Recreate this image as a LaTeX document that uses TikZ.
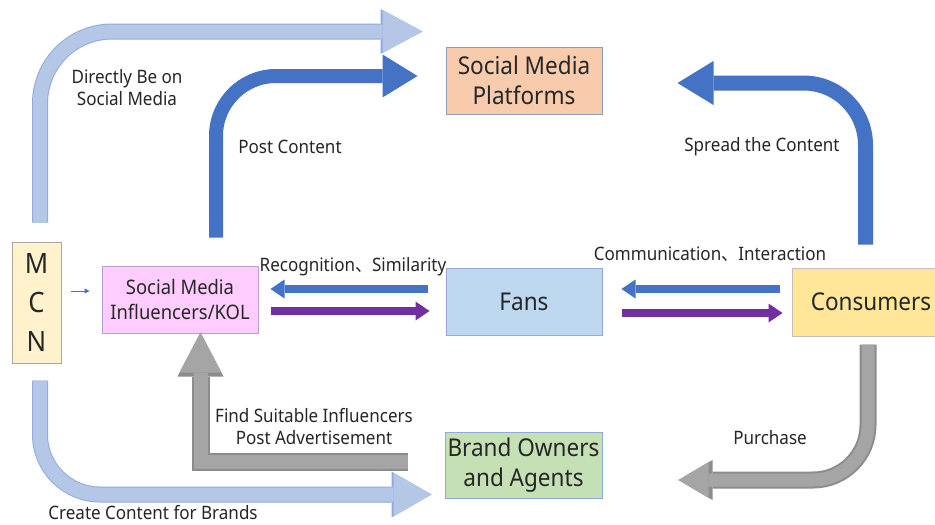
\documentclass[tikz,border=0pt]{standalone}
\usepackage{fontspec}
\setmainfont{Noto Sans}[FakeStretch=0.92]
\newfontfamily\cjk{Noto Sans CJK SC}[FakeStretch=0.92]
\usetikzlibrary{arrows.meta,calc}

\definecolor{txt}{HTML}{262626}
\definecolor{ltblue}{HTML}{B4C7E7}
\definecolor{ltedge}{HTML}{8FAADC}
\definecolor{dkblue}{HTML}{4472C4}
\definecolor{purp}{HTML}{7030A0}
\definecolor{grayfill}{HTML}{A5A5A5}
\definecolor{grayedge}{HTML}{8C8C8C}
\definecolor{mcnfill}{HTML}{FFF2CC}
\definecolor{mcnedge}{HTML}{A6A6A6}
\definecolor{kolfill}{HTML}{FFCCFF}
\definecolor{koledge}{HTML}{B9A0D4}
\definecolor{fanfill}{HTML}{BDD7EE}
\definecolor{fanedge}{HTML}{8FAADC}
\definecolor{consfill}{HTML}{FFE699}
\definecolor{consedge}{HTML}{BFBFBF}
\definecolor{smpfill}{HTML}{F8CBAD}
\definecolor{smpedge}{HTML}{8E9AB8}
\definecolor{brandfill}{HTML}{C5E0B4}
\definecolor{brandedge}{HTML}{8FAADC}

\newcommand\boxfont{\fontsize{24.5}{30}\selectfont}
\newcommand\kolfont{\fontsize{20}{25}\selectfont}
\newcommand\mcnfont{\fontsize{28}{39}\selectfont}
\newcommand\lblfont{\fontsize{18.5}{22}\selectfont}

\tikzset{
  box/.style={draw, line width=1pt, minimum width=156pt, minimum height=67pt,
    inner sep=0pt, align=center, font=\boxfont, text=txt},
  lbl/.style={font=\lblfont, text=txt, align=center, inner sep=0pt},
  % wide block arrows; the tip grows with the line width so the outline follows it
  lightblk/.style={draw=ltblue, line width=14pt, preaction={draw=ltedge, line width=16pt}},
  grayblk/.style={draw=grayfill, preaction={draw=grayedge, line width=\pgflinewidth+2pt}},
  darkblk/.style={draw=dkblue, line width=14pt},
  flatarrow/.style={line width=8.5pt, -{Triangle[length=14pt,width=19pt,line width=0pt]}},
}

\begin{document}
\begin{tikzpicture}[x=1pt,y=-1pt]
\useasboundingbox (0,0) rectangle (935,525);
\fill[white] (0,0) rectangle (935,525);

% boxes
\node[box, fill=mcnfill, draw=mcnedge, minimum width=49pt, minimum height=121pt,
      font=\mcnfont] (mcn) at (36.5,302.5) {M\\C\\N};
\node[box, fill=kolfill, draw=koledge, font=\kolfont] (kol) at (180,299.5)
      {Social Media\\Influencers/KOL};
\node[box, fill=fanfill, draw=fanedge] (fans) at (524,301.5) {Fans};
\node[box, fill=consfill, draw=consedge, minimum width=158pt, minimum height=68pt]
      (cons) at (871,302) {Consumers};
\node[box, fill=smpfill, draw=smpedge] (smp) at (524,80.5) {Social Media\\Platforms};
\node[box, fill=brandfill, draw=brandedge, minimum width=157pt, minimum height=66pt]
      (brand) at (523.5,465) {Brand Owners\\and Agents};

% MCN -> social media platforms
\draw[lightblk, rounded corners=72pt, -{Triangle[length=26pt 1,width=29pt 1,line width=0pt]}]
  ($(mcn.north)+(3.5,-19)$) |- ($(smp.north west)+(-23,-15)$);
% influencers -> social media platforms
\draw[darkblk, rounded corners=60pt, -{Triangle[length=35pt,width=43pt,line width=0pt]}]
  ($(kol.north)+(36,-28)$) |- ($(smp.west)+(-28,-4.5)$);
% consumers -> social media platforms
\draw[darkblk, line width=15pt, rounded corners=62pt, -{Triangle[length=36pt,width=44pt,line width=0pt]}]
  ($(cons.north)+(-5.5,-23)$) |- ($(smp.east)+(75,2.5)$);
% MCN -> brand owners
\draw[lightblk, rounded corners=60pt, -{Triangle[length=24pt 1,width=30pt 1,line width=0pt]}]
  ($(mcn.south)+(3.5,17)$) |- ($(brand.west)+(-13,29.5)$);
% brand owners -> influencers
\draw[grayblk, line width=14pt, line join=miter, -{Triangle[length=26pt 1,width=28pt 1,line width=0pt]}]
  ($(brand.west)+(-37,-3)$) -| ($(kol.south)+(20.5,-1)$);
% consumers -> brand owners
\draw[grayblk, line width=13pt, rounded corners=55pt, -{Triangle[length=17pt 1,width=23pt 1,line width=0pt]}]
  ($(cons.south)+(-3,8)$) |- ($(brand.east)+(76,15)$);

% two-way arrows
\draw[flatarrow, dkblue] ($(fans.west)+(-18,-12.5)$) -- ($(kol.east)+(12,-10.5)$);
\draw[flatarrow, purp] ($(kol.east)+(12,11.5)$) -- ($(fans.west)+(-16,9.5)$);
\draw[flatarrow, dkblue] ($(cons.west)+(-12,-13)$) -- ($(fans.east)+(19,-12.5)$);
\draw[flatarrow, purp] ($(fans.east)+(19,11.5)$) -- ($(cons.west)+(-9,11)$);

% MCN -> influencers
\draw[dkblue, line width=1pt, -{Triangle[length=5pt,width=5pt]}]
  ($(mcn.east)+(9,-11.5)$) -- ($(kol.west)+(-12,-8.5)$);

% labels
\node[lbl] (ldirect) at (127,88) {Directly Be on\\Social Media};
\node[lbl] (lpost) at (290,147) {Post Content};
\node[lbl] (lspread) at (762,147) {Spread the Content};
\node[lbl] (lrecog) at (353,267) {Recognition{\cjk 、}Similarity};
\node[lbl] (lcomm) at (710,254) {Communication{\cjk 、}Interaction};
\node[lbl] (lfind) at (314,427) {Find Suitable Influencers\\Post Advertisement};
\node[lbl] (lcreate) at (153,512.5) {Create Content for Brands};
\node[lbl] (lbuy) at (770,438) {Purchase};
\end{tikzpicture}
\end{document}
